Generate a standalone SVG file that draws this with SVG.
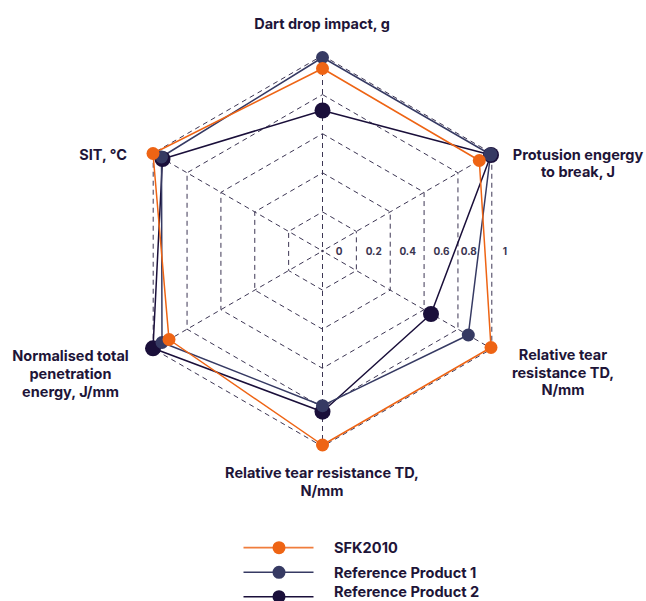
<svg xmlns="http://www.w3.org/2000/svg" width="646" height="601" viewBox="0 0 646 601">
<style>
.grid{fill:none;stroke:#3d3654;stroke-width:1;stroke-dasharray:5 4}
.lbl{font-family:Inter,"Liberation Sans",sans-serif;font-weight:700;font-size:14.5px;fill:#1e1538}
.tick{font-family:Inter,"Liberation Sans",sans-serif;font-weight:700;font-size:10px;fill:#3a3550}
.leg{font-family:Inter,"Liberation Sans",sans-serif;font-weight:700;font-size:14.6px;fill:#1e1538}
.s-o{fill:none;stroke:#ee6414;stroke-width:1.5;stroke-linejoin:round}
.s-n{fill:none;stroke:#363a63;stroke-width:1.5;stroke-linejoin:round}
.s-d{fill:none;stroke:#1a0f3a;stroke-width:1.5;stroke-linejoin:round}
.d-o{fill:#ee6414}
.d-n{fill:#363a63}
.d-d{fill:#1a0f3a}
</style>
<rect width="646" height="601" fill="#ffffff"/>
<g id="grid">
<polygon class="grid" points="322.5,211.9 356.36,231.45 356.36,270.55 322.5,290.1 288.64,270.55 288.64,231.45"/>
<polygon class="grid" points="322.5,172.8 390.22,211.9 390.22,290.1 322.5,329.2 254.78,290.1 254.78,211.9"/>
<polygon class="grid" points="322.5,133.7 424.08,192.35 424.08,309.65 322.5,368.3 220.92,309.65 220.92,192.35"/>
<polygon class="grid" points="322.5,94.6 457.94,172.8 457.94,329.2 322.5,407.4 187.06,329.2 187.06,172.8"/>
<polygon class="grid" points="322.5,55.5 491.8,153.25 491.8,348.75 322.5,446.5 153.2,348.75 153.2,153.25"/>
<g class="grid" style="stroke-dashoffset:-4">
<line x1="322.5" y1="251" x2="322.5" y2="55.5"/>
<line x1="322.5" y1="251" x2="491.8" y2="153.25"/>
<line x1="322.5" y1="251" x2="491.8" y2="348.75"/>
<line x1="322.5" y1="251" x2="322.5" y2="446.5"/>
<line x1="322.5" y1="251" x2="153.2" y2="348.75"/>
<line x1="322.5" y1="251" x2="153.2" y2="153.25"/>
</g>
<circle cx="322.5" cy="251" r="1.3" fill="#3d3654"/>
</g>
<g id="ticks">
<text class="tick" x="339" y="254.5" text-anchor="middle">0</text>
<text class="tick" x="373.7" y="254.5" text-anchor="middle">0.2</text>
<text class="tick" x="407.7" y="254.5" text-anchor="middle">0.4</text>
<text class="tick" x="441.5" y="254.5" text-anchor="middle">0.6</text>
<text class="tick" x="468.8" y="254.5" text-anchor="middle">0.8</text>
<text class="tick" x="505" y="254.5" text-anchor="middle">1</text>
</g>
<g id="connectors">
<polygon id="series-rp2" class="s-d" points="322.5,110.5 491,155 431,314 322.5,411.7 153,348.3 162.5,159"/>
<polygon id="series-rp1" class="s-n" points="322.5,57.5 490.5,154.5 468.3,335 322.5,405.7 162,342.5 161.5,157"/>
<polygon id="series-sfk" class="s-o" points="322.5,68.5 479.3,160.5 491,347.5 322.5,445 169,339.5 153,153.5"/>
</g>
<g id="points-rp2">
<circle class="d-d" cx="322.5" cy="110.5" r="8"/>
<circle class="d-d" cx="491" cy="155" r="8"/>
<circle class="d-d" cx="431" cy="314" r="8"/>
<circle class="d-d" cx="322.5" cy="411.7" r="8"/>
<circle class="d-d" cx="153" cy="348.3" r="8"/>
<circle class="d-d" cx="162.5" cy="159" r="8"/>
</g>
<g id="points-rp1">
<circle class="d-n" cx="322.5" cy="57.5" r="6.5"/>
<circle class="d-n" cx="490.5" cy="154.5" r="7"/>
<circle class="d-n" cx="468.3" cy="335" r="6.5"/>
<circle class="d-n" cx="322.5" cy="405.7" r="6.5"/>
<circle class="d-n" cx="162" cy="342.5" r="6.5"/>
<circle class="d-n" cx="161.5" cy="157" r="6.5"/>
</g>
<g id="points-sfk">
<circle class="d-o" cx="322.5" cy="68.5" r="6.5"/>
<circle class="d-o" cx="479.3" cy="160.5" r="6.5"/>
<circle class="d-o" cx="491" cy="347.5" r="6.5"/>
<circle class="d-o" cx="322.5" cy="445" r="6.5"/>
<circle class="d-o" cx="169" cy="339.5" r="6.5"/>
<circle class="d-o" cx="153" cy="153.5" r="6.5"/>
</g>
<g id="axis-labels">
<text class="lbl" x="322" y="29" text-anchor="middle">Dart drop impact, g</text>
<text class="lbl" x="578" y="160" text-anchor="middle">Protusion engergy</text>
<text class="lbl" x="578" y="176.5" text-anchor="middle">to break, J</text>
<text class="lbl" x="563" y="360" text-anchor="middle">Relative tear</text>
<text class="lbl" x="563" y="377.5" text-anchor="middle">resistance TD,</text>
<text class="lbl" x="563" y="395" text-anchor="middle">N/mm</text>
<text class="lbl" x="322" y="477.5" text-anchor="middle">Relative tear resistance TD,</text>
<text class="lbl" x="322" y="495.5" text-anchor="middle">N/mm</text>
<text class="lbl" x="70.5" y="360.5" text-anchor="middle">Normalised total</text>
<text class="lbl" x="70.5" y="378.5" text-anchor="middle">penetration</text>
<text class="lbl" x="70.5" y="396.5" text-anchor="middle">energy, J/mm</text>
<text class="lbl" x="127" y="160" text-anchor="end">SIT, °C</text>
</g>
<g id="legend">
<line x1="243.5" y1="547.7" x2="313.5" y2="547.7" stroke="#f07d3c" stroke-width="1.8"/>
<circle class="d-o" cx="279" cy="547.7" r="6.5"/>
<text class="leg" x="334" y="553">SFK2010</text>
<line x1="243.5" y1="572.3" x2="313.5" y2="572.3" stroke="#363a63" stroke-width="1.5"/>
<circle class="d-n" cx="279" cy="572.3" r="6.5"/>
<text class="leg" x="334" y="577.5">Reference Product 1</text>
<line x1="243.5" y1="596.7" x2="313.5" y2="596.7" stroke="#1a0f3a" stroke-width="1.5"/>
<circle class="d-d" cx="279" cy="596.7" r="6.5"/>
<text class="leg" x="334" y="597">Reference Product 2</text>
</g>
</svg>
